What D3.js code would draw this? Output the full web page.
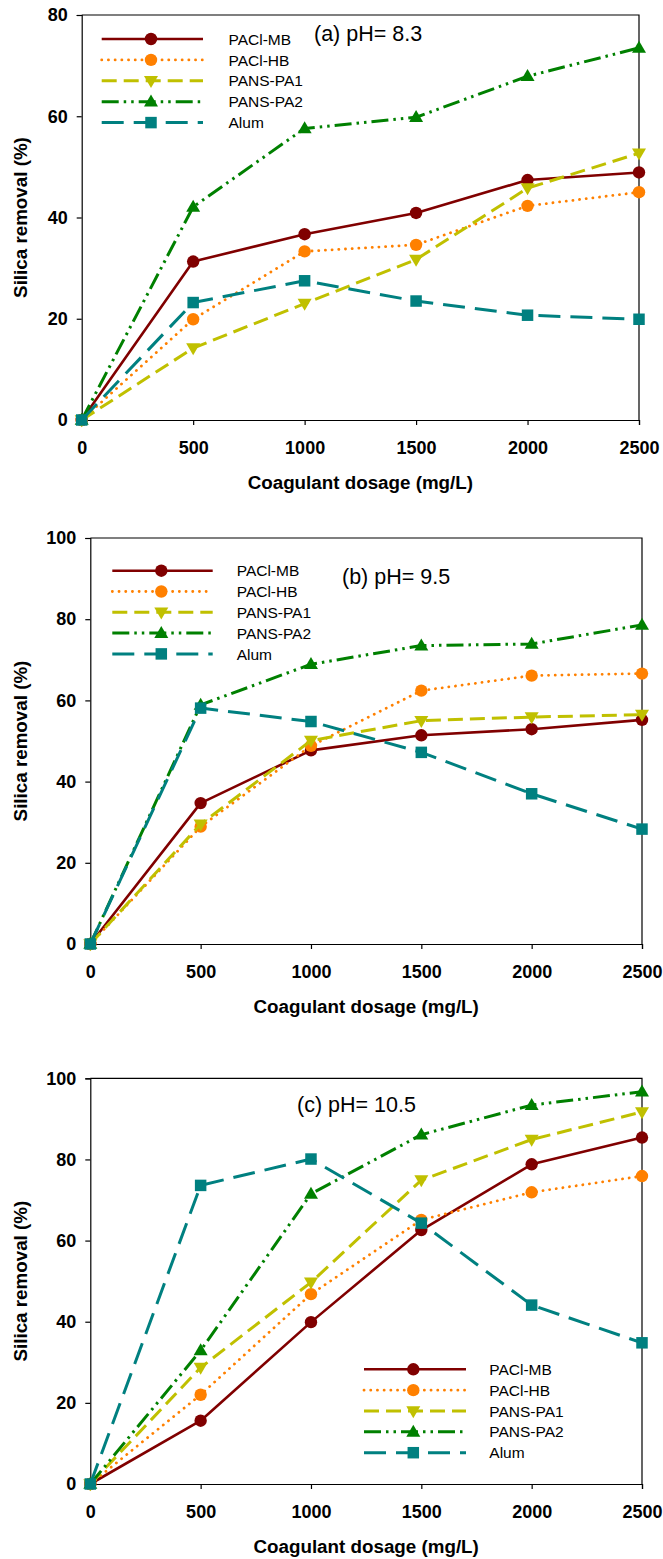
<!DOCTYPE html>
<html>
<head>
<meta charset="utf-8">
<script src="https://cdn.jsdelivr.net/npm/d3@7"></script>
<style>
  html, body { margin: 0; padding: 0; background: #fff; }
  svg { display: block; font-family: "Liberation Sans", Arial, sans-serif; }
</style>
</head>
<body>
<svg id="chart" width="663" height="1559"></svg>
<script>
// Coagulant dosage (mg/L) shared by all three panels
const dosage = [0, 500, 1000, 1500, 2000, 2500];
const seriesNames = ["PACl-MB", "PACl-HB", "PANS-PA1", "PANS-PA2", "Alum"];
const xTicks = [0, 500, 1000, 1500, 2000, 2500];

// Silica removal (%) at pH 8.3
const ph83_paclMB  = [0, 31.3, 36.7, 40.9, 47.4, 48.9];
const ph83_paclHB  = [0, 19.9, 33.3, 34.6, 42.3, 45.0];
const ph83_pansPA1 = [0, 14.2, 23.0, 31.7, 45.8, 52.7];
const ph83_pansPA2 = [0, 42.1, 57.6, 59.8, 67.9, 73.5];
const ph83_alum    = [0, 23.2, 27.5, 23.5, 20.7, 19.9];
const ph83_yTicks  = [0, 20, 40, 60, 80];

// Silica removal (%) at pH 9.5
const ph95_paclMB  = [0, 34.7, 47.7, 51.4, 52.9, 55.2];
const ph95_paclHB  = [0, 28.9, 48.8, 62.4, 66.1, 66.6];
const ph95_pansPA1 = [0, 29.5, 50.1, 55.0, 55.9, 56.5];
const ph95_pansPA2 = [0, 58.9, 68.9, 73.5, 73.9, 78.6];
const ph95_alum    = [0, 58.1, 54.8, 47.2, 37.0, 28.3];
const ph95_yTicks  = [0, 20, 40, 60, 80, 100];

// Silica removal (%) at pH 10.5
const ph105_paclMB  = [0, 15.6, 39.9, 62.6, 78.8, 85.4];
const ph105_paclHB  = [0, 22.0, 46.8, 65.1, 71.9, 75.9];
const ph105_pansPA1 = [0, 28.7, 49.7, 74.9, 84.9, 91.7];
const ph105_pansPA2 = [0, 32.9, 71.5, 86.1, 93.4, 96.7];
const ph105_alum    = [0, 73.6, 80.1, 64.3, 44.1, 34.8];
const ph105_yTicks  = [0, 20, 40, 60, 80, 100];

const panelTitles = ["(a) pH= 8.3", "(b) pH= 9.5", "(c) pH= 10.5"];

// Series styling: colour, dash pattern, marker symbol
const styles = [
  { color: "#800000", dash: null,                      width: 2.6, cap: "butt",  marker: "circle" },
  { color: "#FF8000", dash: "0.1,6.6",                 width: 2.8, cap: "round", marker: "circle" },
  { color: "#C0C000", dash: "15,7",                    width: 3,   cap: "butt",  marker: "down" },
  { color: "#008000", dash: "17,5,2.5,5,2.5,5",        width: 3,   cap: "butt",  marker: "up" },
  { color: "#008080", dash: "22,10",                   width: 3,   cap: "butt",  marker: "square" }
];

const panels = [
  { series: [ph83_paclMB, ph83_paclHB, ph83_pansPA1, ph83_pansPA2, ph83_alum], yTicks: ph83_yTicks,
    left: 81.7, right: 639, top: 15, bottom: 420,
    title: { x: 314, y: 41 },
    legend: { x0: 101.7, x1: 203, mx: 151, y0: 39, dy: 20.9, tx: 228.5 } },
  { series: [ph95_paclMB, ph95_paclHB, ph95_pansPA1, ph95_pansPA2, ph95_alum], yTicks: ph95_yTicks,
    left: 90.3, right: 642, top: 538, bottom: 944,
    title: { x: 342, y: 584 },
    legend: { x0: 112.3, x1: 212.7, mx: 161.3, y0: 570.7, dy: 20.8, tx: 236.7 } },
  { series: [ph105_paclMB, ph105_paclHB, ph105_pansPA1, ph105_pansPA2, ph105_alum], yTicks: ph105_yTicks,
    left: 90.3, right: 642, top: 1078.3, bottom: 1484,
    title: { x: 297, y: 1112 },
    legend: { x0: 364, x1: 466, mx: 413.3, y0: 1369.3, dy: 20.85, tx: 489.3 } }
];

const svg = d3.select("#chart");

function symbolFor(kind) {
  if (kind === "circle") return d3.symbol().type(d3.symbolCircle).size(Math.PI * 6.2 * 6.2);
  return d3.symbol().type(d3.symbolSquare).size(11.5 * 11.5);
}

function drawMarker(g, kind, x, y, color) {
  if (kind === "up" || kind === "down") {
    // triangles roughly 14 px wide, 12 px tall
    const w = 7, h = 12;
    const pts = kind === "up"
      ? [[x - w, y + h * 0.4], [x + w, y + h * 0.4], [x, y - h * 0.6]]
      : [[x - w, y - h * 0.4], [x + w, y - h * 0.4], [x, y + h * 0.6]];
    g.append("path").attr("d", "M" + pts.map(p => p.join(",")).join("L") + "Z").attr("fill", color);
  } else {
    g.append("path").attr("d", symbolFor(kind)()).attr("transform", `translate(${x},${y})`).attr("fill", color);
  }
}

panels.forEach((p, pi) => {
  const x = d3.scaleLinear().domain([0, 2500]).range([p.left, p.right]);
  const yMax = p.yTicks[p.yTicks.length - 1];
  const y = d3.scaleLinear().domain([0, yMax]).range([p.bottom, p.top]);
  const g = svg.append("g");

  // frame (top and right edges)
  g.append("path")
    .attr("d", `M${p.left},${p.top}H${p.right}V${p.bottom}`)
    .attr("fill", "none").attr("stroke", "#000").attr("stroke-width", 1.2);

  // axes
  const xAxis = d3.axisBottom(x).tickValues(xTicks).tickSize(5).tickPadding(9).tickFormat(d3.format("d"));
  const yAxis = d3.axisLeft(y).tickValues(p.yTicks).tickSize(5).tickPadding(9).tickFormat(d3.format("d"));
  const gx = g.append("g").attr("transform", `translate(0,${p.bottom})`).call(xAxis);
  const gy = g.append("g").attr("transform", `translate(${p.left},0)`).call(yAxis);
  [gx, gy].forEach(a => {
    a.select(".domain").attr("stroke", "#000").attr("stroke-width", 1.2);
    a.selectAll(".tick line").attr("stroke", "#000").attr("stroke-width", 1.2);
    a.selectAll(".tick text").attr("fill", "#000")
      .style("font-size", "18px").style("font-weight", "bold")
      .style("font-family", "'Liberation Sans', Arial, sans-serif");
  });
  gx.selectAll(".tick text").attr("dy", "1.1em");

  // axis titles
  g.append("text")
    .attr("x", (p.left + p.right) / 2).attr("y", p.bottom + 69)
    .attr("text-anchor", "middle")
    .style("font-size", "18.8px").style("font-weight", "bold")
    .text("Coagulant dosage (mg/L)");
  g.append("text")
    .attr("transform", `translate(${27},${(p.top + p.bottom) / 2}) rotate(-90)`)
    .attr("text-anchor", "middle")
    .style("font-size", "18.8px").style("font-weight", "bold")
    .text("Silica removal (%)");

  // panel title
  g.append("text").attr("x", p.title.x).attr("y", p.title.y)
    .style("font-size", "21.5px").text(panelTitles[pi]);

  // series lines then markers
  const line = d3.line().x((d, i) => x(dosage[i])).y(d => y(d));
  p.series.forEach((vals, si) => {
    const s = styles[si];
    const sg = g.append("g");
    sg.append("path").datum(vals).attr("d", line)
      .attr("fill", "none").attr("stroke", s.color).attr("stroke-width", s.width)
      .attr("stroke-dasharray", s.dash).attr("stroke-linecap", s.cap)
      .attr("stroke-linejoin", "round");
    vals.forEach((v, i) => drawMarker(sg, s.marker, x(dosage[i]), y(v), s.color));
  });

  // legend
  const L = p.legend;
  seriesNames.forEach((name, si) => {
    const s = styles[si];
    const ry = L.y0 + si * L.dy;
    const lg = g.append("g");
    lg.append("line").attr("x1", L.x0).attr("x2", L.x1).attr("y1", ry).attr("y2", ry)
      .attr("stroke", s.color).attr("stroke-width", s.width)
      .attr("stroke-dasharray", s.dash).attr("stroke-linecap", s.cap);
    drawMarker(lg, s.marker, L.mx, ry, s.color);
    lg.append("text").attr("x", L.tx).attr("y", ry + 5.6)
      .style("font-size", "15.5px").text(name);
  });
});
</script>
</body>
</html>
